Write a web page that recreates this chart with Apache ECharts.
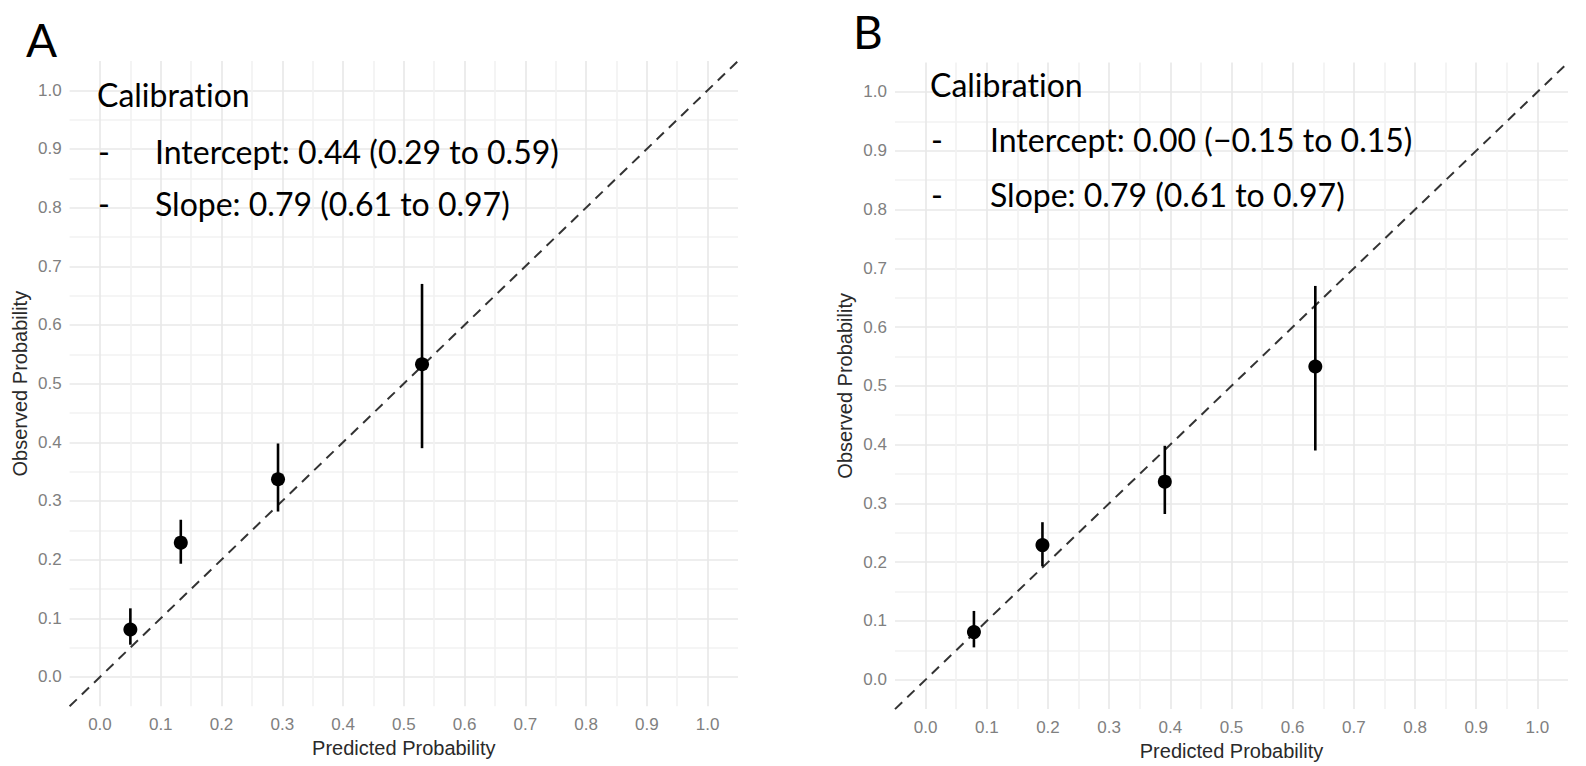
<!DOCTYPE html>
<html>
<head>
<meta charset="utf-8">
<script src="https://cdn.jsdelivr.net/npm/echarts@6/dist/echarts.min.js"></script>
<style>
html,body{margin:0;padding:0;background:#fff;}
#chart{width:1586px;height:766px;}
#chart text{font-variant-ligatures:none !important;font-feature-settings:"liga" 0, "clig" 0 !important;}
</style>
</head>
<body>
<div id="chart"></div>
<script>
// ---- data ----
const observed = [0.081, 0.229, 0.337, 0.533];
const lowerCI = [0.055, 0.193, 0.282, 0.390];
const upperCI = [0.117, 0.268, 0.398, 0.670];
const predictedA = [0.050, 0.133, 0.293, 0.530];
const predictedB = [0.079, 0.191, 0.391, 0.637];
const refLine = [[-0.05, -0.05], [1.05, 1.05]];
const tickLabels = ['0.0','0.1','0.2','0.3','0.4','0.5','0.6','0.7','0.8','0.9','1.0'];
const textA = ['Calibration', 'Intercept: 0.44 (0.29 to 0.59)', 'Slope: 0.79 (0.61 to 0.97)'];
const textB = ['Calibration', 'Intercept: 0.00 (\u22120.15 to 0.15)', 'Slope: 0.79 (0.61 to 0.97)'];
const xTitle = 'Predicted Probability';
const yTitle = 'Observed Probability';

const chart = echarts.init(document.getElementById('chart'), null, { renderer: 'svg' });

function fmt(v) {
  const k = Math.round(v * 100);
  if (k < 0 || k > 100 || k % 10 !== 0) return '';
  return tickLabels[k / 10];
}
const MAJOR = '#e8e8e8', MINOR = '#f2f2f2';
function axis(type, gi, name) {
  return {
    type: 'value', gridIndex: gi, min: -0.05, max: 1.05, interval: 0.05,
    name: name, nameLocation: 'middle',
    nameGap: type === 'x' ? 28 : 40,
    nameTextStyle: { color: '#2a2a2a', fontSize: 20, fontFamily: 'Liberation Sans, Arial, sans-serif' },
    axisLine: { show: false }, axisTick: { show: false },
    axisLabel: { formatter: fmt, color: '#808080', fontSize: 17, margin: type === 'x' ? 10 : 8,
                 fontFamily: 'Liberation Sans, Arial, sans-serif', showMinLabel: true, showMaxLabel: true },
    splitLine: { show: true, showMinLine: false, showMaxLine: false,
                 lineStyle: { color: [MAJOR, MINOR], width: 1.6 } }
  };
}

function panelSeries(gi, pred) {
  const pts = pred.map((x, i) => [x, observed[i]]);
  const bars = pred.map((x, i) => [x, lowerCI[i], upperCI[i]]);
  return [
    { type: 'line', xAxisIndex: gi, yAxisIndex: gi, data: refLine, symbol: 'none', silent: true,
      lineStyle: { color: '#333', width: 2, type: [10, 7] }, z: 2 },
    { type: 'custom', xAxisIndex: gi, yAxisIndex: gi, data: bars, z: 3,
      renderItem: function (params, api) {
        const p1 = api.coord([api.value(0), api.value(1)]);
        const p2 = api.coord([api.value(0), api.value(2)]);
        return { type: 'line', shape: { x1: p1[0], y1: p1[1], x2: p2[0], y2: p2[1] },
                 style: { stroke: '#000', lineWidth: 2.6 } };
      } },
    { type: 'scatter', xAxisIndex: gi, yAxisIndex: gi, data: pts, symbolSize: 14,
      itemStyle: { color: '#000', opacity: 1 }, z: 4 }
  ];
}

const FONT = 'Lato, "Open Sans", sans-serif';
function txt(x, y, s, size) {
  return { type: 'text', x: x, y: y, z: 100,
           style: { text: s, fontSize: size || 32, fontFamily: FONT, fill: '#000',
                    verticalAlign: 'middle', align: 'left' } };
}

chart.setOption({
  animation: false,
  backgroundColor: '#fff',
  grid: [
    { left: 69.6, top: 61, width: 668.4, height: 645.3 },
    { left: 895, top: 62.6, width: 673, height: 646.8 }
  ],
  xAxis: [axis('x', 0, xTitle), axis('x', 1, xTitle)],
  yAxis: [axis('y', 0, yTitle), axis('y', 1, yTitle)],
  series: panelSeries(0, predictedA).concat(panelSeries(1, predictedB)),
  graphic: [
    txt(26, 39, 'A', 46), txt(853, 31, 'B', 46),
    txt(97, 94, textA[0]), txt(98, 151, '-'), txt(155, 151, textA[1]), txt(98, 203, '-'), txt(155, 203, textA[2]),
    txt(930, 84, textB[0]), txt(931, 139, '-'), txt(990, 139, textB[1]), txt(931, 194, '-'), txt(990, 194, textB[2])
  ]
});
</script>
</body>
</html>
